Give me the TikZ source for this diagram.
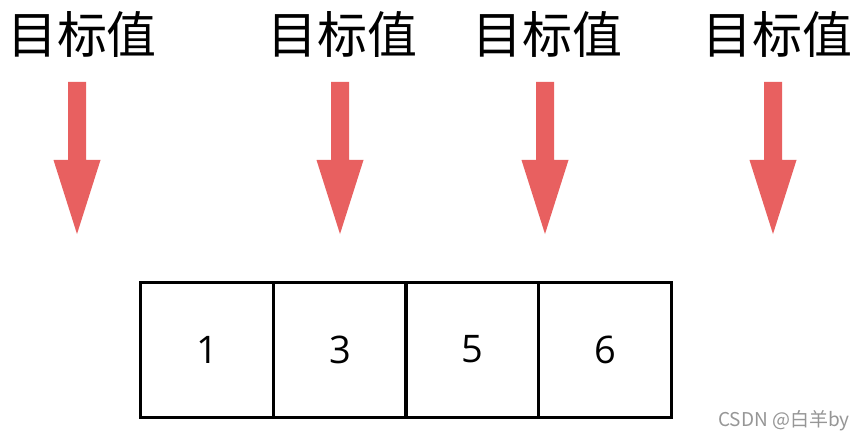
\documentclass[tikz,border=0pt]{standalone}
\usepackage{fontspec}
\setmainfont{Open Sans}
\newfontfamily\cjk{Noto Sans CJK SC}
\definecolor{arrowred}{RGB}{232,96,96}
\definecolor{wmgray}{RGB}{150,150,150}
\begin{document}
\begin{tikzpicture}[x=1pt,y=-1pt,
  label/.style={font=\cjk\fontsize{50}{50}\selectfont, inner sep=0pt, anchor=center},
  redarrow/.style={fill=arrowred},
  cell/.style={draw=black, line width=3pt, minimum width=133pt, minimum height=135pt,
    inner sep=0pt, font=\fontsize{38}{38}\selectfont},
  wm/.style={font=\cjk\fontsize{19}{19}\selectfont, text=wmgray, inner sep=0pt}]
\useasboundingbox (0,0) rectangle (865,441);
\fill[white] (0,0) rectangle (865,441);
% labels
\node[label] (l1) at (82,35) {目标值};
\node[label] (l2) at (342,35) {目标值};
\node[label] (l3) at (547,35) {目标值};
\node[label] (l4) at (777,35) {目标值};
% arrows (shaft 82..160, head 160..234)
\foreach \n/\x in {1/77,2/340,3/545,4/773}{
  \coordinate (a\n) at (\x,82);
  \fill[redarrow] (a\n) ++(-9,0) -- ++(18,0) -- ++(0,78) -- ++(14.5,0)
     -- ++(-23.5,74) -- ++(-23.5,-74) -- ++(14.5,0) -- cycle;
}
% cells
\node[cell] (c1) at (207,349.5) {1};
\node[cell] (c2) at (340,349.5) {3};
\node[cell] (c3) at (472,349.5) {5};
\node[cell] (c4) at (605,349.5) {6};
% watermark
\node[wm, anchor=east] (w) at (850,421) {CSDN @白羊by};
\end{tikzpicture}
\end{document}
